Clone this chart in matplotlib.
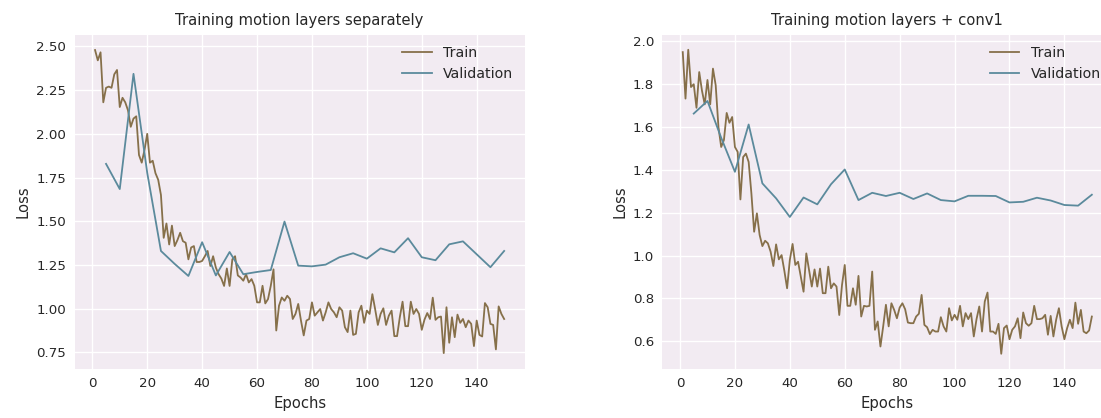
import numpy as np
import matplotlib
matplotlib.use("Agg")
import matplotlib.pyplot as plt

# ---------------- data ----------------
train_epochs = list(range(1, 151))
val_epochs = list(range(5, 151, 5))

left_train = [
    2.479, 2.42, 2.466, 2.18, 2.263, 2.27, 2.263, 2.34, 2.365, 2.153,
    2.206, 2.18, 2.134, 2.04, 2.087, 2.10, 1.879, 1.835, 1.907, 2.0,
    1.835, 1.846, 1.775, 1.737, 1.65, 1.405, 1.487, 1.367, 1.475, 1.358,
    1.392, 1.434, 1.386, 1.377, 1.282, 1.35, 1.358, 1.267, 1.267, 1.273,
    1.30, 1.33, 1.244, 1.30, 1.235, 1.197, 1.172, 1.13, 1.23, 1.13,
    1.282, 1.30, 1.19, 1.178, 1.16, 1.197, 1.15, 1.169, 1.131, 1.036,
    1.036, 1.131, 1.03, 1.055, 1.131, 1.225, 0.875, 1.017, 1.064, 1.045,
    1.074, 1.055, 0.941, 0.97, 1.027, 0.932, 0.847, 0.932, 0.941, 1.036,
    0.96, 0.979, 0.998, 0.932, 0.979, 1.036, 0.998, 0.979, 0.951, 1.008,
    0.989, 0.894, 0.866, 0.989, 0.85, 0.856, 0.979, 1.017, 0.919, 0.989,
    0.97, 1.083, 0.998, 0.907, 0.97, 1.002, 0.907, 0.96, 0.989, 0.843,
    0.843, 0.951, 1.04, 0.9, 0.9, 1.04, 0.97, 0.998, 0.97, 0.879,
    0.938, 0.975, 0.941, 1.063, 0.936, 0.951, 0.955, 0.746, 1.008, 0.805,
    0.951, 0.837, 0.966, 0.919, 0.941, 0.894, 0.932, 0.913, 0.786, 0.932,
    0.85, 0.841, 1.032, 1.008, 0.913, 0.907, 0.767, 1.013, 0.97, 0.941,
]
left_val = [
    1.828, 1.684, 2.343, 1.777, 1.33, 1.256, 1.187, 1.38, 1.19, 1.324,
    1.197, 1.21, 1.221, 1.498, 1.246, 1.242, 1.252, 1.294, 1.317, 1.286,
    1.345, 1.322, 1.403, 1.294, 1.277, 1.368, 1.385, 1.311, 1.237, 1.330,
]

right_train = [
    1.95, 1.733, 1.961, 1.787, 1.80, 1.69, 1.857, 1.77, 1.706, 1.82,
    1.706, 1.873, 1.795, 1.60, 1.507, 1.54, 1.666, 1.62, 1.647, 1.507,
    1.484, 1.262, 1.46, 1.476, 1.437, 1.29, 1.111, 1.197, 1.096, 1.044,
    1.069, 1.057, 1.018, 0.951, 1.052, 0.982, 1.002, 0.929, 0.847, 0.979,
    1.054, 0.956, 0.971, 0.90, 0.831, 1.01, 0.932, 0.855, 0.935, 0.855,
    0.939, 0.824, 0.824, 0.948, 0.847, 0.87, 0.855, 0.722, 0.862, 0.956,
    0.765, 0.765, 0.847, 0.77, 0.905, 0.715, 0.765, 0.762, 0.765, 0.925,
    0.653, 0.692, 0.575, 0.669, 0.77, 0.669, 0.777, 0.746, 0.707, 0.757,
    0.777, 0.749, 0.687, 0.684, 0.684, 0.715, 0.728, 0.816, 0.676, 0.665,
    0.633, 0.653, 0.645, 0.645, 0.712, 0.669, 0.645, 0.754, 0.697, 0.723,
    0.70, 0.765, 0.669, 0.731, 0.703, 0.731, 0.622, 0.703, 0.762, 0.645,
    0.785, 0.827, 0.645, 0.645, 0.634, 0.681, 0.541, 0.661, 0.673, 0.609,
    0.653, 0.669, 0.707, 0.614, 0.734, 0.684, 0.672, 0.684, 0.765, 0.703,
    0.703, 0.707, 0.723, 0.630, 0.718, 0.622, 0.70, 0.754, 0.669, 0.609,
    0.661, 0.70, 0.661, 0.78, 0.681, 0.746, 0.645, 0.637, 0.65, 0.715,
]
right_val = [
    1.663, 1.722, 1.55, 1.391, 1.612, 1.337, 1.267, 1.18, 1.271, 1.239,
    1.333, 1.402, 1.259, 1.293, 1.278, 1.293, 1.264, 1.29, 1.259, 1.253,
    1.279, 1.279, 1.278, 1.248, 1.251, 1.27, 1.257, 1.236, 1.233, 1.284,
]

titles = ["Training motion layers separately", "Training motion layers + conv1"]
xlabel = "Epochs"
ylabel = "Loss"
legend_labels = ["Train", "Validation"]

# ---------------- style ----------------
TRAIN_C = "#86704a"
VAL_C = "#5b8a9c"
BG = "#f2ebf2"
TXT = "#262626"

plt.rcParams["font.family"] = ["DejaVu Sans"]

W, H = 1101, 418
fig = plt.figure(figsize=(W / 100, H / 100), dpi=100)
fig.patch.set_facecolor("white")

ax_w, ax_h = 450 / W, 334 / H
ax_b = 49 / H
ax1 = fig.add_axes([74.6 / W, ax_b, ax_w, ax_h])
ax2 = fig.add_axes([662.3 / W, ax_b, ax_w, ax_h])

panels = [
    (ax1, left_train, left_val, titles[0], (0.655, 2.565)),
    (ax2, right_train, right_val, titles[1], (0.47, 2.03)),
]

for ax, tr, va, title, ylim in panels:
    ax.set_facecolor(BG)
    ax.plot(train_epochs, tr, color=TRAIN_C, lw=1.3, label=legend_labels[0])
    ax.plot(val_epochs, va, color=VAL_C, lw=1.3, label=legend_labels[1])
    ax.set_xlim(-6.45, 157.45)
    ax.set_ylim(*ylim)
    ax.grid(True, color="white", lw=1.0)
    ax.set_axisbelow(True)
    for s in ax.spines.values():
        s.set_visible(False)
    ax.tick_params(axis="both", length=0, labelsize=9.6, labelcolor=TXT, pad=6)
    ax.set_title(title, fontsize=10.6, color=TXT, pad=7)
    ax.set_xlabel(xlabel, fontsize=10.6, color=TXT, labelpad=4)
    ax.set_ylabel(ylabel, fontsize=10.6, color=TXT, labelpad=4)
    leg = ax.legend(loc="upper right", frameon=False, fontsize=10.2,
                    handlelength=2.1, borderaxespad=0.4)
    for t in leg.get_texts():
        t.set_color(TXT)

ax1.set_xticks(range(0, 141, 20))
ax2.set_xticks(range(0, 141, 20))

fig.savefig("out.png", dpi=100)
